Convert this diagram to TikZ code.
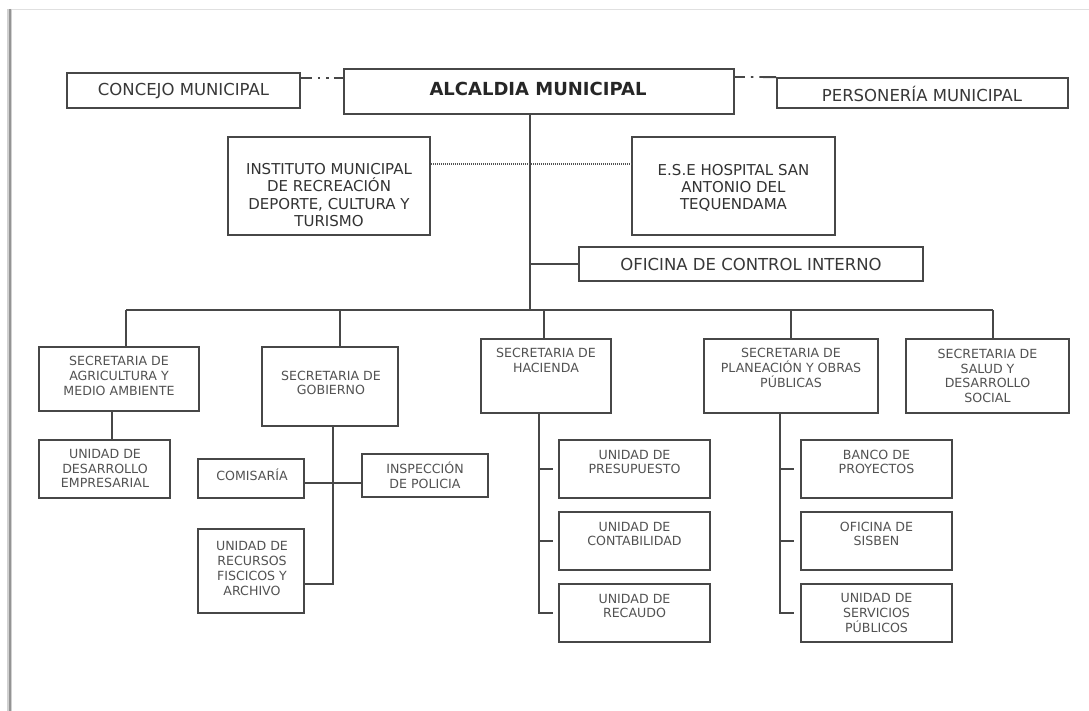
\documentclass[tikz,border=0pt]{standalone}
\usepackage{fontspec}
\setmainfont{DejaVu Sans}
\newcommand\obox[5]{\node[box,minimum width={(#4-#2)*1pt},minimum height={(#5-#3)*1pt}] (#1) at ({(#2+#4)/2},{(#3+#5)/2}) {};}
\begin{document}
\begin{tikzpicture}[x=1pt,y=-1pt,
 box/.style={draw=black!72,line width=1.7pt,rectangle,inner sep=0pt,fill=white},
 conn/.style={draw=black!72,line width=1.7pt},
 dotln/.style={draw=black!68,line width=1.8pt,dash pattern=on 1pt off 1pt},
 ddA/.style={draw=black!72,line width=1.8pt,dash pattern=on 11pt off 6pt on 2.5pt off 6pt on 2.5pt off 5pt on 14pt},
 ddB/.style={draw=black!72,line width=1.8pt,dash pattern=on 10pt off 6pt on 2.5pt off 6pt on 20pt},
 atxt/.style={font=\fontsize{18}{20}\selectfont\bfseries,text=black!85,align=center,inner sep=0pt},
 btxt/.style={font=\fontsize{16.5}{18}\selectfont,text=black!78,align=center,inner sep=0pt},
 mtxt/.style={font=\fontsize{15}{17.3}\selectfont,text=black!80,align=center,inner sep=0pt},
 stxt/.style={font=\fontsize{12.6}{14.8}\selectfont,text=black!68,align=center,inner sep=0pt}]
\useasboundingbox (0,0) rectangle (1089,711);
\fill[white] (0,0) rectangle (1089,711);
% page frame
\draw[black!12,line width=1pt] (9,9.5) -- (1089,9.5);
\draw[black!18,line width=5pt] (9.5,9) -- (9.5,711);
\draw[black!42,line width=2pt] (9.5,9) -- (9.5,711);

% boxes
\obox{con}{67}{73}{300}{108}
\obox{alc}{344}{69}{734}{114}
\obox{per}{777}{78}{1068}{108}
\obox{ins}{228}{137}{430}{235}
\obox{hos}{632}{137}{835}{235}
\obox{ofi}{579}{247}{923}{281}
\obox{agr}{39}{347}{199}{411}
\obox{gob}{262}{347}{398}{426}
\obox{hac}{481}{339}{611}{413}
\obox{pla}{704}{339}{878}{413}
\obox{sal}{906}{339}{1069}{413}
\obox{des}{39}{440}{170}{498}
\obox{com}{198}{459}{304}{498}
\obox{isp}{362}{454}{488}{497}
\obox{rec}{198}{529}{304}{613}
\obox{pre}{559}{440}{710}{498}
\obox{cnt}{559}{512}{710}{570}
\obox{rca}{559}{584}{710}{642}
\obox{ban}{801}{440}{952}{498}
\obox{sis}{801}{512}{952}{570}
\obox{ser}{801}{584}{952}{642}

% texts
\node[btxt] (con-t) at (183.5,91) {CONCEJO MUNICIPAL};
\node[atxt] (alc-t) at (538,88.5) {ALCALDIA MUNICIPAL};
\node[btxt] (per-t) at (922,94) {PERSONERÍA MUNICIPAL};
\node[btxt] (ofi-t) at (751,264) {OFICINA DE CONTROL INTERNO};
\node[mtxt] (ins-t) at (329,195) {INSTITUTO MUNICIPAL\\DE RECREACIÓN\\DEPORTE, CULTURA Y\\TURISMO};
\node[mtxt] (hos-t) at (733.5,188) {E.S.E HOSPITAL SAN\\ANTONIO DEL\\TEQUENDAMA};
\node[stxt] (agr-t) at (119,376) {SECRETARIA DE\\AGRICULTURA Y\\MEDIO AMBIENTE};
\node[stxt] (gob-t) at (331,383) {SECRETARIA DE\\GOBIERNO};
\node[stxt] (hac-t) at (546,360.5) {SECRETARIA DE\\HACIENDA};
\node[stxt] (pla-t) at (791,368) {SECRETARIA DE\\PLANEACIÓN Y OBRAS\\PÚBLICAS};
\node[stxt] (sal-t) at (987.5,376) {SECRETARIA DE\\SALUD Y\\DESARROLLO\\SOCIAL};
\node[stxt] (des-t) at (105,468.5) {UNIDAD DE\\DESARROLLO\\EMPRESARIAL};
\node[stxt] (com-t) at (252,475) {COMISARÍA};
\node[stxt] (isp-t) at (425,475.5) {INSPECCIÓN\\DE POLICIA};
\node[stxt] (rec-t) at (252,568.5) {UNIDAD DE\\RECURSOS\\FISCICOS Y\\ARCHIVO};
\node[stxt] (pre-t) at (634.5,462) {UNIDAD DE\\PRESUPUESTO};
\node[stxt] (cnt-t) at (634.5,534) {UNIDAD DE\\CONTABILIDAD};
\node[stxt] (rca-t) at (634.5,606) {UNIDAD DE\\RECAUDO};
\node[stxt] (ban-t) at (876.5,462) {BANCO DE\\PROYECTOS};
\node[stxt] (sis-t) at (876.5,534) {OFICINA DE\\SISBEN};
\node[stxt] (ser-t) at (876.5,613) {UNIDAD DE\\SERVICIOS\\PÚBLICOS};

% connectors
\coordinate (tk) at (530,310);
\coordinate (bl) at (126,310);
\coordinate (br) at (993,310);
\coordinate (s2) at (340,310);
\coordinate (s3) at (544,310);
\coordinate (s4) at (791,310);
\draw[conn] (tk |- alc.south) -- (tk);
\draw[conn] (bl) -- (br);
\draw[conn] (bl) -- (bl |- agr.north);
\draw[conn] (s2) -- (s2 |- gob.north);
\draw[conn] (s3) -- (s3 |- hac.north);
\draw[conn] (s4) -- (s4 |- pla.north);
\draw[conn] (br) -- (br |- sal.north);
\draw[conn] (tk |- ofi.west) -- (ofi.west);
\draw[dotln] ([yshift=22pt]ins.east) -- ([yshift=22pt]ins.east -| hos.west);
\draw[ddA] ([yshift=12.5pt]con.east) -- ([yshift=12.5pt]con.east -| alc.west);
\draw[ddB] ([yshift=14.5pt]alc.east) -- (per.north west);

\coordinate (a1) at (112,0);
\draw[conn] (a1 |- agr.south) -- (a1 |- des.north);

\coordinate (g1) at (333,483);
\coordinate (g2) at (333,584);
\draw[conn] (g1 |- gob.south) -- (g2) -- (g2 -| rec.east);
\draw[conn] (g1 -| com.east) -- (g1 -| isp.west);

\coordinate (h1) at (539,0);
\draw[conn] (h1 |- hac.south) -- (h1 |- rca.west) -- ([xshift=-5pt]rca.west);
\draw[conn] (h1 |- pre.west) -- ([xshift=-5pt]pre.west);
\draw[conn] (h1 |- cnt.west) -- ([xshift=-5pt]cnt.west);

\coordinate (p1) at (780,0);
\draw[conn] (p1 |- pla.south) -- (p1 |- ser.west) -- ([xshift=-6pt]ser.west);
\draw[conn] (p1 |- ban.west) -- ([xshift=-6pt]ban.west);
\draw[conn] (p1 |- sis.west) -- ([xshift=-6pt]sis.west);
\end{tikzpicture}
\end{document}
